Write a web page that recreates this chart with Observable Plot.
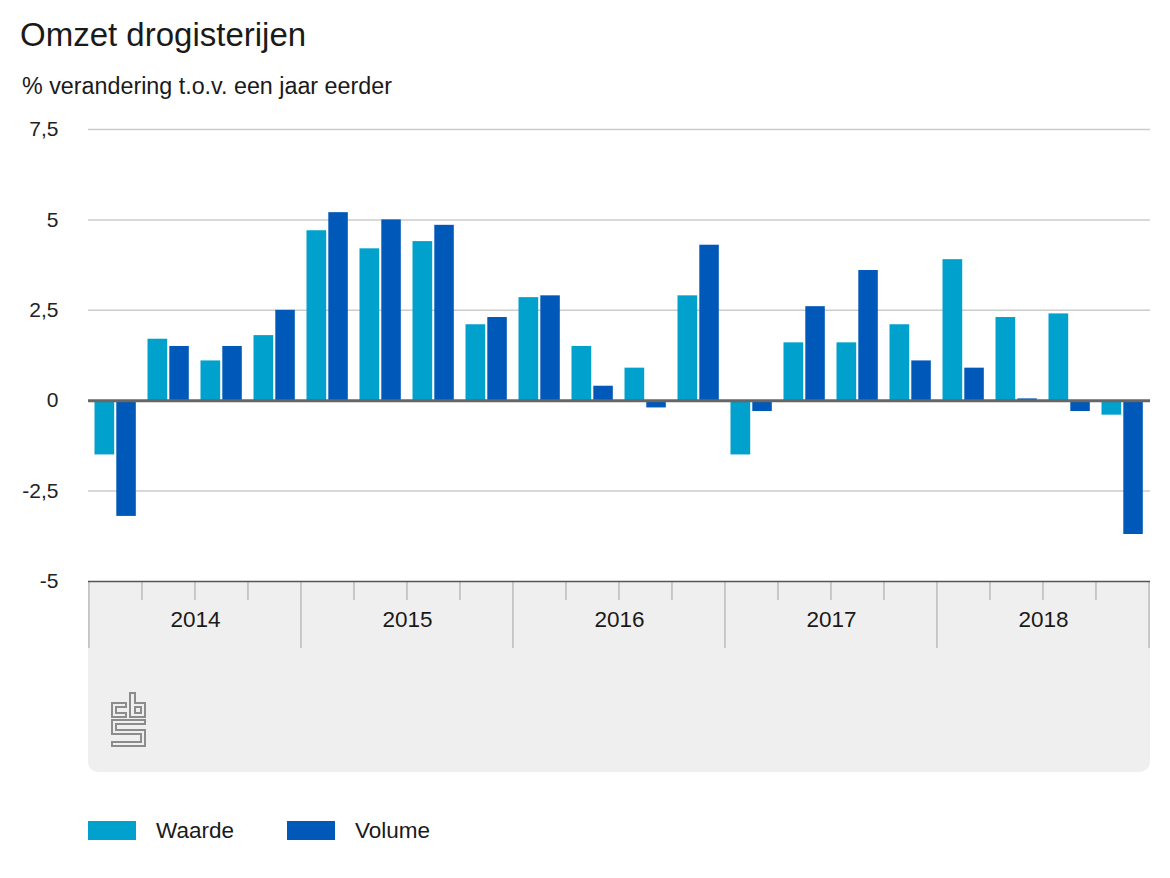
<!DOCTYPE html>
<html><head><meta charset="utf-8">
<script src="https://cdn.jsdelivr.net/npm/d3@7"></script>
<script src="https://cdn.jsdelivr.net/npm/@observablehq/plot@0.6"></script>
<style>
body{margin:0;background:#fff;font-family:"Liberation Sans",Arial,sans-serif;color:#1a1a1a}
#wrap{position:relative;width:1170px;height:878px;overflow:hidden}
.abs{position:absolute;white-space:nowrap;line-height:1}
.sw{position:absolute;width:48px;height:19px;top:821px}
</style></head><body><div id="wrap">
<div class="abs" style="left:20px;top:18px;font-size:33px">Omzet drogisterijen</div>
<div class="abs" style="left:22px;top:75px;font-size:23.3px">% verandering t.o.v. een jaar eerder</div>
<div style="position:absolute;left:88px;top:581px;width:1062px;height:191px;background:#efefef;border-radius:0 0 10px 10px"></div>
<svg style="position:absolute;left:111px;top:692px" width="36" height="56" viewBox="0 0 36 56" fill="none" stroke="#8c8c8c" stroke-width="2">
  <path d="M15,11 H1 V25 H15 V21 H5 V15 H15 Z"/>
  <path d="M19,1 H24 V11 H34 V25 H19 Z"/>
  <rect x="24" y="15" width="6" height="6"/>
  <path d="M1,28 H34 V32 H5 V38 H34 V54 H1 V50 H30 V42 H1 Z"/>
</svg>
<div id="chart" style="position:absolute;left:0;top:110px"></div>
<div id="legend"></div>
</div>
<script>
const years = [2014, 2015, 2016, 2017, 2018];
const quarters = [
  "2014 K1","2014 K2","2014 K3","2014 K4",
  "2015 K1","2015 K2","2015 K3","2015 K4",
  "2016 K1","2016 K2","2016 K3","2016 K4",
  "2017 K1","2017 K2","2017 K3","2017 K4",
  "2018 K1","2018 K2","2018 K3","2018 K4"
];
const seriesNames = ["Waarde", "Volume"];
const seriesColors = ["#00a1cd", "#0058b8"];
const waarde = [-1.5, 1.7, 1.1, 1.8, 4.7, 4.2, 4.4, 2.1, 2.85, 1.5, 0.9, 2.9, -1.5, 1.6, 1.6, 2.1, 3.9, 2.3, 2.4, -0.4];
const volume = [-3.2, 1.5, 1.5, 2.5, 5.2, 5.0, 4.85, 2.3, 2.9, 0.4, -0.2, 4.3, -0.3, 2.6, 3.6, 1.1, 0.9, 0.05, -0.3, -3.7];
const yTicks = [-5, -2.5, 0, 2.5, 5, 7.5];

const W = 1170, H = 550, mT = 19, mB = 79, mL = 88, mR = 20;
const step = (W - mL - mR) / quarters.length;
const innerH = H - mT - mB;
const rows = quarters.map((q, i) => ({q, w: waarde[i], v: volume[i]}));

const chart = Plot.plot({
  width: W, height: H, marginTop: mT, marginBottom: mB, marginLeft: mL, marginRight: mR,
  style: {background: "transparent", fontFamily: "Liberation Sans, Arial, sans-serif", fontSize: "21px", color: "#222"},
  x: {domain: quarters, type: "band", padding: 0, axis: null},
  y: {domain: [-5, 7.5], ticks: yTicks, tickFormat: d => String(d).replace(".", ","), tickSize: 0, tickPadding: 30, label: null},
  marks: [
    Plot.ruleY(yTicks.filter(t => t > -5 && t !== 0), {stroke: "#cccccc", strokeWidth: 1.5}),
    Plot.barY(rows, {x: "q", y1: 0, y2: "w", fill: seriesColors[0], insetLeft: 5.5, insetRight: 27.8}),
    Plot.barY(rows, {x: "q", y1: 0, y2: "v", fill: seriesColors[1], insetLeft: 27.3, insetRight: 6.2}),
    Plot.ruleY([0], {stroke: "#666666", strokeWidth: 3}),
    Plot.ruleX(quarters.filter(q => !q.endsWith("K1")), {x: d => d, dx: -step / 2 - 0.5, stroke: "#bbbbbb", strokeWidth: 1.5, insetTop: innerH, insetBottom: -19}),
    Plot.ruleX(quarters.filter(q => q.endsWith("K1")), {x: d => d, dx: -step / 2 - 0.5, stroke: "#bbbbbb", strokeWidth: 1.5, insetTop: innerH, insetBottom: -67}),
    Plot.ruleX([quarters[quarters.length - 1]], {x: d => d, dx: step / 2 - 0.5, stroke: "#bbbbbb", strokeWidth: 1.5, insetTop: innerH, insetBottom: -67}),
    Plot.ruleY([-5], {stroke: "#555555", strokeWidth: 1.5}),
    Plot.text(years, {x: y => `${y} K2`, text: y => String(y), dx: step / 2, frameAnchor: "bottom", dy: 45, fontSize: 22.5, fill: "#1a1a1a"})
  ]
});
document.getElementById("chart").appendChild(chart);

const legend = document.getElementById("legend");
const swX = [88, 287], lbX = [156, 355];
seriesNames.forEach((name, i) => {
  const sw = document.createElement("div");
  sw.className = "sw";
  sw.style.left = swX[i] + "px";
  sw.style.background = seriesColors[i];
  legend.appendChild(sw);
  const lb = document.createElement("div");
  lb.className = "abs";
  lb.style.left = lbX[i] + "px";
  lb.style.top = "820px";
  lb.style.fontSize = "22.5px";
  lb.textContent = name;
  legend.appendChild(lb);
});
</script>
</body></html>
